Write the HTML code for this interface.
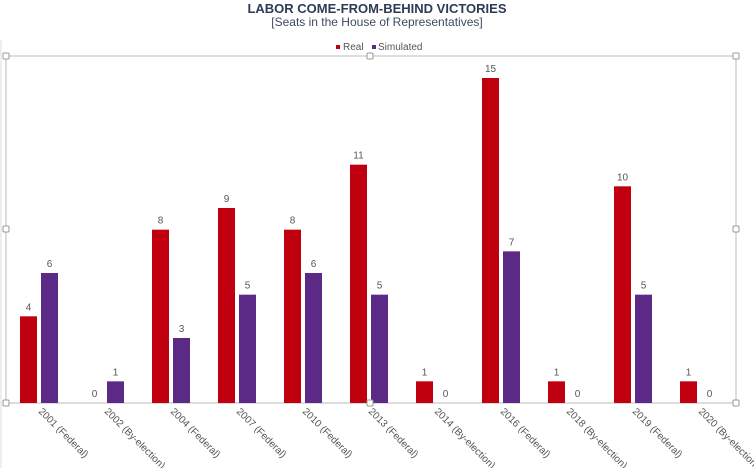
<!DOCTYPE html>
<html><head><meta charset="utf-8"><style>
body{margin:0;background:#fff;}
svg{display:block;font-family:"Liberation Sans",sans-serif;}
</style></head><body>
<svg width="754" height="468" id="c">
<text x="377" y="13" text-anchor="middle" font-size="13" font-weight="bold" fill="#2d3b55">LABOR COME-FROM-BEHIND VICTORIES</text>
<text x="377" y="26" text-anchor="middle" font-size="12" fill="#3d4a60">[Seats in the House of Representatives]</text>
<g>
<rect x="336" y="45" width="4" height="4" fill="#c0000f"/>
<text x="343" y="50" font-size="10" fill="#555">Real</text>
<rect x="372" y="45" width="4" height="4" fill="#5b2a86"/>
<text x="378" y="50" font-size="10" fill="#555">Simulated</text>
</g>
<line x1="1" y1="40" x2="1" y2="468" stroke="#ddd"/>
<rect x="6" y="56" width="730" height="347" fill="none" stroke="#bbb"/>
<g id="bars"></g>
<g id="handles"></g>
</svg>
<script>
const categories=["2001 (Federal)","2002 (By-election)","2004 (Federal)","2007 (Federal)","2010 (Federal)","2013 (Federal)","2014 (By-election)","2016 (Federal)","2018 (By-election)","2019 (Federal)","2020 (By-election)"];
const realValues=[4,0,8,9,8,11,1,15,1,10,1];
const simulatedValues=[6,1,3,5,6,5,0,7,0,5,0];
const NS="http://www.w3.org/2000/svg";
const x0=9,groupW=66,baseY=403,unit=325/15,barW=17;
const xScale=i=>x0+i*groupW;
const yScale=v=>baseY-v*unit;
const g=document.getElementById('bars');
function mk(t,a){const e=document.createElementNS(NS,t);for(const k in a)e.setAttribute(k,a[k]);return e;}
categories.forEach((c,i)=>{
  [[realValues[i],11,"#c0000f","real"],[simulatedValues[i],32,"#5b2a86","simulated"]].forEach(([v,off,col,nm])=>{
    const x=xScale(i)+off;
    const r=mk('rect',{x:x,y:yScale(v),width:barW,height:v*unit,fill:col});
    
    
    g.appendChild(r);
    const t=mk('text',{x:x+barW/2,y:yScale(v)-6,'text-anchor':'middle','font-size':'10',fill:'#555'});
    t.textContent=v;
    
    
    g.appendChild(t);
  });
  const cx=xScale(i)+33;
  const l=mk('text',{x:cx-4,y:412,'font-size':'10',fill:'#555',transform:`rotate(45 ${cx-4} 412)`});
  l.textContent=c;
  
  
  g.appendChild(l);
});
const h=document.getElementById('handles');
[[6,56],[370,56],[736,56],[6,229],[736,229],[6,403],[370,403],[736,403]].forEach(([x,y])=>{
  const r=mk('rect',{x:x-3,y:y-3,width:6,height:6,fill:'#fff',stroke:'#999','stroke-width':1,rx:1});
  
  
  h.appendChild(r);
});
</script>
</body></html>
